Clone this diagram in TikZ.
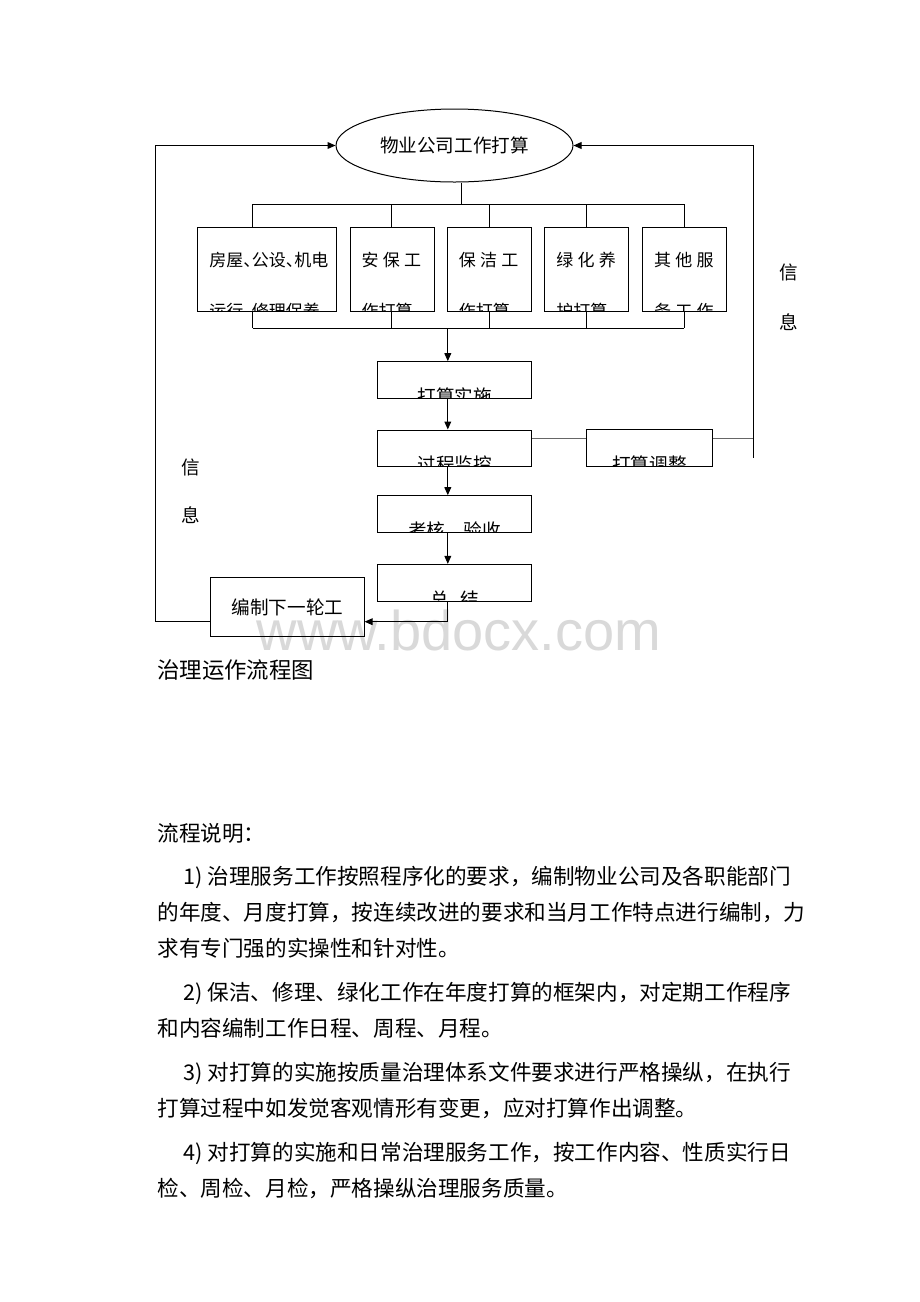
\documentclass[tikz,border=0pt]{standalone}
\usepackage{fontspec}
\setmainfont{Noto Sans CJK SC}
\newfontfamily\markfont{Liberation Sans}
\usetikzlibrary{arrows.meta,shapes.geometric}
\XeTeXlinebreaklocale "zh"
\XeTeXlinebreakskip=0pt plus 2pt
\newcommand{\dun}{\makebox[0.5em][l]{、}}
\newcommand{\ls}{\hspace{0.25em}}
\newcommand{\bodyfont}{\fontsize{10.8pt}{13pt}\selectfont}
\newcommand{\boxfont}{\fontsize{9.3pt}{11pt}\selectfont}

\begin{document}
\begin{tikzpicture}[x=0.5pt, y=-0.5pt, line width=0.5pt, >={Triangle[length=4pt,width=3.4pt]},
 cut text/.style={rectangle, draw=none, inner sep=0pt, minimum width=0pt, minimum height=0pt},
 plan node/.style={ellipse, draw, inner sep=0pt, minimum width=118.5pt, minimum height=36.5pt, font=\boxfont},
 unit node/.style 2 args={draw, inner sep=0pt, minimum width=42pt, minimum height=42.3pt,
   path picture={
     \node[cut text, anchor=base west, font=\fontsize{8.5pt}{10pt}\selectfont] at ([shift={(11,39.5)}]path picture bounding box.north west) {#1};
     \node[cut text, anchor=base west, font=\fontsize{8.5pt}{10pt}\selectfont] at ([shift={(11,90)}]path picture bounding box.north west) {#2};}},
 flow node/.style={draw, inner sep=0pt, minimum width=77.1pt, minimum height=18.3pt,
   path picture={\node[cut text, anchor=base, font=\boxfont] at ([yshift=-20.8pt]path picture bounding box.north) {#1};}},
 info/.style={inner sep=0pt, font=\boxfont},
 body line/.style={anchor=west, inner sep=0pt, font=\bodyfont},
 full line/.style={body line, text width=#1, align=justify}]
\path[use as bounding box, fill=white] (0,0) rectangle (920,1302);
\node[font=\markfont\fontsize{28pt}{30pt}\selectfont, text=black!15, anchor=base] (mark) at (459,650) {www.bdocx.com};

\begin{scope}
\node[plan node] (plan) at (454.5,145.5) {物业公司工作打算};
\node[unit node={房屋\dun 公设\dun 机电}{运行\dun 修理保养}, minimum width=69.15pt] (fw) at (266.9,269.3) {};
\node[unit node={安\ls 保\ls 工}{作打算}] (ab) at (392.1,269.3) {};
\node[unit node={保\ls 洁\ls 工}{作打算}] (bj) at (489.3,269.3) {};
\node[unit node={绿\ls 化\ls 养}{护打算}] (lh) at (586.9,269.3) {};
\node[unit node={其\ls 他\ls 服}{务\ls 工\ls 作}] (qt) at (684.5,269.3) {};
\node[flow node={打算实施}] (ss) at (454.6,380) {};
\node[flow node={过程监控}] (jk) at (454.6,448.3) {};
\node[flow node={考核、验收}] (kh) at (454.6,514) {};
\node[flow node={总\hspace{0.6em}结}] (zj) at (454.6,582.7) {};
\node[flow node={打算调整}, minimum width=62.8pt] (tz) at (649.5,448.2) {};
\node[draw, inner sep=0pt, minimum width=76.7pt, minimum height=29.7pt, font=\boxfont] (bz) at (287.4,607) {编制下一轮工};
\node[info] (xl1) at (191,467) {信};
\node[info] (xl2) at (191,515) {息};
\node[info] (xr1) at (789,272) {信};
\node[info] (xr2) at (789,322) {息};
\end{scope}

\begin{scope}
\coordinate (top) at (461.7,204);
\coordinate (t1) at (252.7,204);
\coordinate (t2) at (391.7,204);
\coordinate (t3) at (489,204);
\coordinate (t4) at (586.7,204);
\coordinate (t5) at (684.3,204);
\coordinate (u0) at (447.8,328.3);
\coordinate (u1) at (252.7,328.3);
\coordinate (u2) at (391.7,328.3);
\coordinate (u3) at (489,328.3);
\coordinate (u4) at (586.7,328.3);
\coordinate (u5) at (684.3,328.3);
\coordinate (loopy) at (155.7,621.7);
\coordinate (rloop) at (753.3,457.7);
\coordinate (adj) at (0,438.3);
\draw (plan.south -| top) -- (top);
\draw (t1) -- (t5);
\draw (u1) -- (u5);
\foreach \i/\n in {1/fw,2/ab,3/bj,4/lh,5/qt} {
  \draw (t\i) -- (t\i |- \n.north);
  \draw (u\i |- \n.south) -- (u\i);
}
\draw[->] (u0) -- (u0 |- ss.north);
\draw[->] (u0 |- ss.south) -- (u0 |- jk.north);
\draw[->] (u0 |- jk.south) -- (u0 |- kh.north);
\draw[->] (u0 |- kh.south) -- (u0 |- zj.north);
\draw[->] (u0 |- zj.south) -- (u0 |- loopy) -- (bz.east |- loopy);
\draw[->] (bz.west |- loopy) -- (loopy) -- (loopy |- plan.west) -- (plan.west);
\draw[->] (rloop) -- (rloop |- plan.east) -- (plan.east);
\draw[black!60, line width=0.45pt] (jk.east |- adj) -- (tz.west |- adj);
\draw[black!60, line width=0.45pt] (tz.east |- adj) -- (rloop |- adj);
\end{scope}

\node[anchor=west, inner sep=0pt, font=\fontsize{11.2pt}{13pt}\selectfont] (title) at (156.7,670) {治理运作流程图};
\node[body line] (l0) at (157,833) {流程说明：};
\node[full line=312.5pt] (l1) at (183,877) {\parfillskip=0pt 1) 治理服务工作按照程序化的要求，编制物业公司及各职能部门};
\node[full line=325.5pt] (l2) at (157,913) {\parfillskip=0pt 的年度、月度打算，按连续改进的要求和当月工作特点进行编制，力};
\node[body line] (l3) at (157,948) {求有专门强的实操性和针对性。};
\node[full line=312.5pt] (l4) at (183,993) {\parfillskip=0pt 2) 保洁、修理、绿化工作在年度打算的框架内，对定期工作程序};
\node[body line] (l5) at (157,1028) {和内容编制工作日程、周程、月程。};
\node[full line=312.5pt] (l6) at (183,1073) {\parfillskip=0pt 3) 对打算的实施按质量治理体系文件要求进行严格操纵，在执行};
\node[body line] (l7) at (157,1108) {打算过程中如发觉客观情形有变更，应对打算作出调整。};
\node[full line=312.5pt] (l8) at (183,1153) {\parfillskip=0pt 4) 对打算的实施和日常治理服务工作，按工作内容、性质实行日};
\node[body line] (l9) at (157,1188) {检、周检、月检，严格操纵治理服务质量。};
\end{tikzpicture}
\end{document}
